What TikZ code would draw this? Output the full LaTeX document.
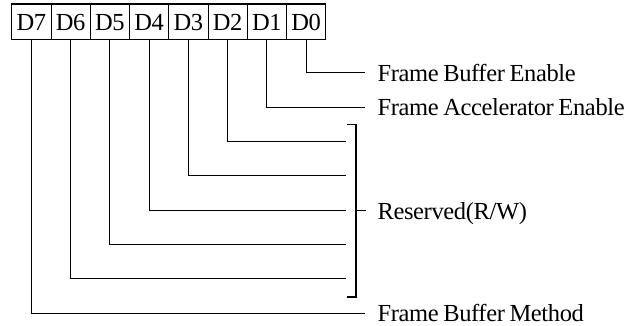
\documentclass[tikz,border=0pt]{standalone}
\usepackage{fontspec}
\setmainfont{Liberation Serif}[LetterSpace=-1.5,WordSpace=0.8]
\begin{document}
\begin{tikzpicture}[x=1pt,y=1pt,line width=1.1pt,
  cell/.style={draw,rectangle,minimum width=39.25pt,minimum height=35.3pt,inner sep=0pt,
    text height=17pt,text depth=0pt,font=\fontsize{24.5}{29}\selectfont},
  lab/.style={anchor=west,inner xsep=12pt,inner ysep=0pt,text height=17pt,text depth=0pt,
    font=\fontsize{24.5}{29}\selectfont}]
\useasboundingbox (0,0) rectangle (642,-326);
% register cells
\foreach \i in {0,...,7}{
  \pgfmathtruncatemacro\b{7-\i}
  \node[cell] (d\b) at ({11.8+39.25*(\i+0.5)},-21.65) {D\b};
}
% labels
\node[lab] (l0) at (365,-72.7) {Frame Buffer Enable};
\node[lab] (l1) at (365,-107.1) {Frame Accelerator Enable};
\node[lab] (l7) at (365,-313.3) {Frame Buffer Method};
\node[lab,inner xsep=11pt] (res) at (366,-210.7) {Reserved(R/W)};
% bit connectors
\draw (d0.south) |- (l0.west);
\draw (d1.south) |- (l1.west);
\draw (d7.south) |- (l7.west);
\foreach \b in {2,...,6}{
  \coordinate (e\b) at (346,{-72.7-34.37*\b});
  \draw (d\b.south) |- (e\b);
}
% bracket
\coordinate (bt) at (356,-124.7);
\coordinate (bb) at (356,-297);
\draw ([xshift=-9pt]bt) -- (bt) -- (bb) -- ([xshift=-9pt]bb);
\draw (bt|-res.west) -- (res.west);
\end{tikzpicture}
\end{document}
